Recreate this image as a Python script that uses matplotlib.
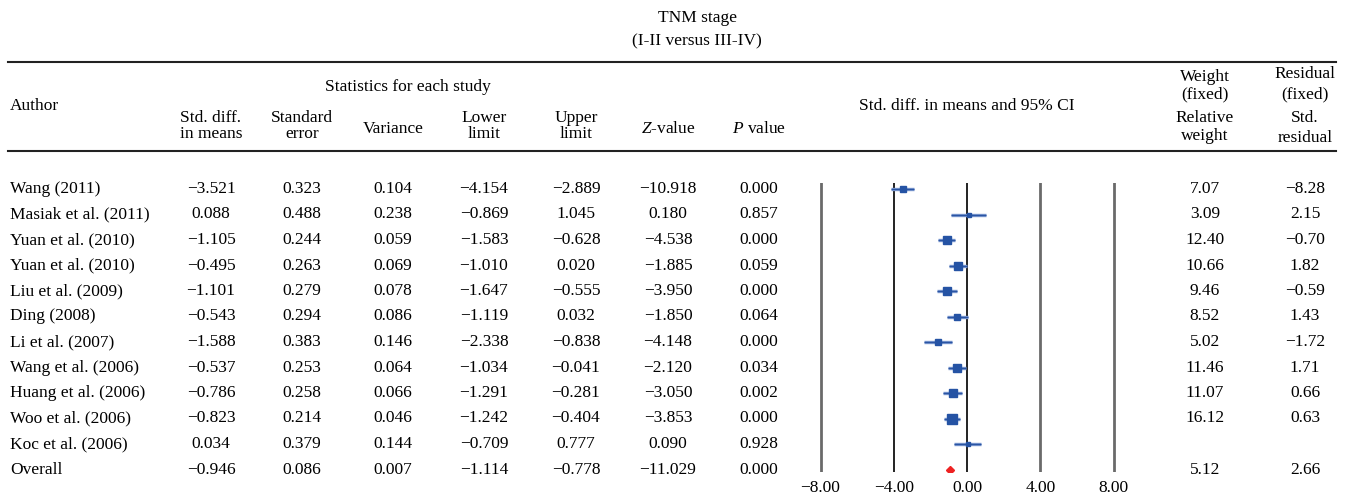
import numpy as np
import matplotlib
matplotlib.use('Agg')
import matplotlib.pyplot as plt

# data
authors = ['Wang (2011)', 'Masiak et al. (2011)', 'Yuan et al. (2010)', 'Yuan et al. (2010)',
           'Liu et al. (2009)', 'Ding (2008)', 'Li et al. (2007)', 'Wang et al. (2006)',
           'Huang et al. (2006)', 'Woo et al. (2006)', 'Koc et al. (2006)', 'Overall']
std_diff = [-3.521, 0.088, -1.105, -0.495, -1.101, -0.543, -1.588, -0.537, -0.786, -0.823, 0.034, -0.946]
std_err = [0.323, 0.488, 0.244, 0.263, 0.279, 0.294, 0.383, 0.253, 0.258, 0.214, 0.379, 0.086]
variance = [0.104, 0.238, 0.059, 0.069, 0.078, 0.086, 0.146, 0.064, 0.066, 0.046, 0.144, 0.007]
lower = [-4.154, -0.869, -1.583, -1.010, -1.647, -1.119, -2.338, -1.034, -1.291, -1.242, -0.709, -1.114]
upper = [-2.889, 1.045, -0.628, 0.020, -0.555, 0.032, -0.838, -0.041, -0.281, -0.404, 0.777, -0.778]
z_value = [-10.918, 0.180, -4.538, -1.885, -3.950, -1.850, -4.148, -2.120, -3.050, -3.853, 0.090, -11.029]
p_value = [0.000, 0.857, 0.000, 0.059, 0.000, 0.064, 0.000, 0.034, 0.002, 0.000, 0.928, 0.000]
# weight / residual columns as printed (Koc row blank in the source)
rel_weight = ['7.07', '3.09', '12.40', '10.66', '9.46', '8.52', '5.02', '11.46', '11.07', '16.12', '', '5.12']
std_resid = ['-8.28', '2.15', '-0.70', '1.82', '-0.59', '1.43', '-1.72', '1.71', '0.66', '0.63', '', '2.66']
# marker weights for squares (as shown)
plot_weight = [7.07, 3.09, 12.40, 10.66, 9.46, 8.52, 5.02, 11.46, 11.07, 16.12, 3.09]
xticks = [-8, -4, 0, 4, 8]

W, H = 1346, 496
plt.rcParams['font.family'] = ['Liberation Serif', 'DejaVu Serif']
plt.rcParams['mathtext.fontset'] = 'custom'
plt.rcParams['mathtext.rm'] = 'Liberation Serif'
plt.rcParams['mathtext.it'] = 'Liberation Serif:italic'
FS = 12.5

fig = plt.figure(figsize=(W / 100, H / 100), dpi=100)

def txt(x, y, s, ha='center', va='center', **kw):
  # place text using pixel coords (origin top-left)
  fig.text(x / W, 1 - y / H, s, ha=ha, va=va, fontsize=FS, **kw)

def num(v):
  return ('%.3f' % v).replace('-', '\u2212')

def hrule(y):
  fig.add_artist(plt.Line2D([8 / W, 1336 / W], [1 - y / H, 1 - y / H], color='#222222', lw=1.5))

# titles and header
txt(697, 18, 'TNM stage')
txt(697, 41, '(I-II versus III-IV)')
hrule(62)
hrule(151)
txt(408, 87, 'Statistics for each study')
txt(10, 106, 'Author', ha='left')
txt(967, 106, 'Std. diff. in means and 95% CI')

col_x = [211, 302, 393, 484, 576, 668, 759]
heads = [('Std. diff.', 'in means'), ('Standard', 'error'), ('Variance', None), ('Lower', 'limit'),
         ('Upper', 'limit'), ('$\\it{Z}$-value', None), ('$\\it{P}$ value', None)]
for x, (a, b) in zip(col_x, heads):
  if b is None:
    txt(x, 129, a)
  else:
    txt(x, 118, a)
    txt(x, 134, b)

txt(1205, 77, 'Weight')
txt(1205, 94, '(fixed)')
txt(1205, 118, 'Relative')
txt(1205, 136, 'weight')
txt(1305, 74, 'Residual')
txt(1305, 94, '(fixed)')
txt(1305, 118, 'Std.')
txt(1305, 138, 'residual')

# table rows
row_y0, row_dy = 189, 25.5
for i, name in enumerate(authors):
  y = row_y0 + i * row_dy
  txt(10, y, name, ha='left')
  for x, col in zip(col_x, [std_diff, std_err, variance, lower, upper, z_value, p_value]):
    txt(x, y, num(col[i]))
  txt(1205, y, rel_weight[i])
  txt(1305, y, std_resid[i].replace('-', '\u2212'))

# forest plot panel
top_px, bot_px = 183, 472
x0_px, px_per_unit = 967, (1113 - 820) / 16.0
xlo, xhi = -8.6, 8.6
ax = fig.add_axes([(x0_px + xlo * px_per_unit) / W, 1 - bot_px / H,
                   (xhi - xlo) * px_per_unit / W, (bot_px - top_px) / H])
ax.set_xlim(xlo, xhi)
ax.set_ylim((bot_px - row_y0) / row_dy, (top_px - row_y0) / row_dy)
for spine in ax.spines.values():
  spine.set_visible(False)
for t in xticks:
  if t in (-4, 0):
    ax.axvline(t, color='#111111', lw=1.3)
  else:
    ax.axvline(t, color='#6a6a6a', lw=2.0)

n = len(plot_weight)
rows = np.arange(n)
ax.hlines(rows, lower[:n], upper[:n], color='#7392cc', lw=2.4, zorder=3)
ax.hlines(rows, lower[:n], upper[:n], color='#2b55a3', lw=0.8, zorder=3)
sizes = [np.sqrt(w) * 1.65 for w in plot_weight]
for i in range(n):
  ax.plot(std_diff[i], rows[i], 's', color='#2553a4', ms=sizes[i], zorder=4)
ax.plot(std_diff[-1], n, 'D', color='#ee2222', ms=4.5, zorder=4)

ax.set_xticks(xticks)
ax.set_xticklabels([('%.2f' % t).replace('-', '\u2212') for t in xticks], fontsize=FS)
ax.tick_params(axis='x', length=0, pad=6)
ax.set_yticks([])

fig.savefig('out.png', dpi=100)
